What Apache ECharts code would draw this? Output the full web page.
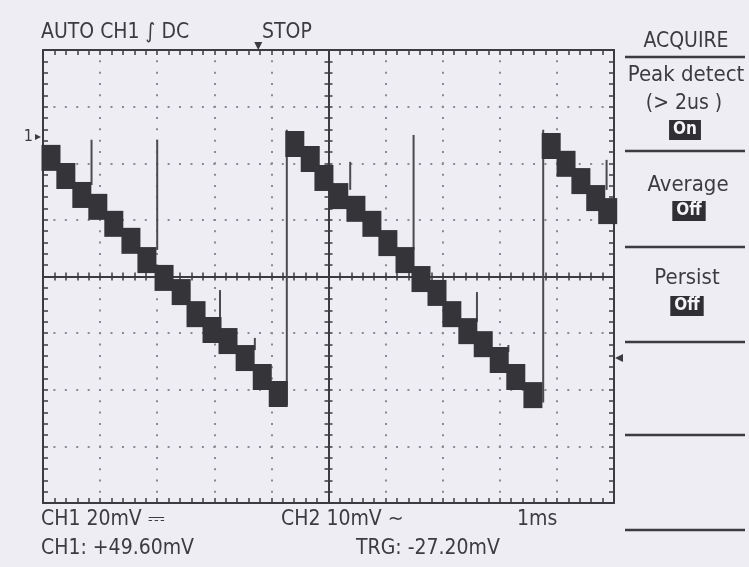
<!DOCTYPE html>
<html>
<head>
<meta charset="utf-8">
<script src="https://cdn.jsdelivr.net/npm/echarts@6/dist/echarts.min.js"></script>
<style>
  html, body { margin: 0; padding: 0; background: #ededf3; }
  #scope { width: 749px; height: 567px; }
</style>
</head>
<body>
<div id="scope"></div>
<script>
// staircase blocks of CH1 (time in ms from screen centre, level in mV)
var blockTime = [
  -4.86, -4.60, -4.32, -4.04, -3.76, -3.46, -3.18, -2.88, -2.58, -2.32, -2.04, -1.76, -1.46, -1.16, -0.88,
  -0.59, -0.32, -0.08, 0.18, 0.48, 0.76, 1.04, 1.34, 1.62, 1.90, 2.16, 2.44, 2.71, 2.99, 3.28, 3.58,
  3.90, 4.16, 4.42, 4.68, 4.89
];
var blockLevel = [
  41.9, 35.5, 28.8, 24.6, 18.6, 12.6, 5.8, -0.5, -5.5, -13.3, -18.9, -22.8, -28.8, -35.5, -41.5,
  46.8, 41.5, 34.8, 28.4, 23.9, 18.6, 11.8, 5.8, -0.9, -5.8, -13.3, -19.3, -23.9, -29.5, -35.5, -41.9,
  46.1, 39.8, 33.7, 27.7, 23.1
];
// vertical retrace edges
var retraceTime = [-0.73, 3.76];
var retraceLow = [-45.4, -44.5];
var retraceHigh = [51.8, 51.8];
// peak detect glitches
var spikeTime = [-4.15, -3.00, -1.90, -1.29, 0.38, 1.49, 2.60, 3.15, 4.87];
var spikeLow = [32.3, 9.4, -15.4, -26.0, 30.6, 9.4, -16.1, -26.7, 30.6];
var spikeHigh = [48.3, 48.3, -4.8, -21.7, 40.5, 50.0, -5.5, -24.2, 41.2];
// markers
var ch1Ref = 49.3;
var trigLevel = -28.8;
var trigTime = -1.23;

var ink = '#3b3b40';
var font = '"DejaVu Sans Condensed", "DejaVu Sans", sans-serif';

var blocks = blockTime.map(function (t, i) { return [t, blockLevel[i]]; });
var edges = [];
retraceTime.forEach(function (t, i) { edges.push([t, retraceLow[i], retraceHigh[i]]); });
spikeTime.forEach(function (t, i) { edges.push([t, spikeLow[i], spikeHigh[i]]); });

var tickLine = { color: ink, width: 1.5 };
function xAx(pos, onZero, split) {
  return {
    type: 'value', min: -5, max: 5, interval: 1, position: pos,
    axisLine: { show: true, onZero: onZero, onZeroAxisIndex: 0, lineStyle: { color: ink, width: 2 } },
    axisTick: { show: true, inside: true, length: onZero ? 4 : 5, lineStyle: tickLine },
    minorTick: { show: true, splitNumber: 5, length: onZero ? 4 : 5, lineStyle: tickLine },
    axisLabel: { show: false },
    splitLine: { show: split, lineStyle: { color: '#8a8a92', width: 2, type: [2, 9.33], dashOffset: 1 } }
  };
}
function yAx(pos, onZero, split) {
  return {
    type: 'value', min: -80, max: 80, interval: 20, position: pos,
    axisLine: { show: true, onZero: onZero, onZeroAxisIndex: 0, lineStyle: { color: ink, width: 2 } },
    axisTick: { show: true, inside: true, length: onZero ? 4 : 5, lineStyle: tickLine },
    minorTick: { show: true, splitNumber: 5, length: onZero ? 4 : 5, lineStyle: tickLine },
    axisLabel: { show: false },
    splitLine: { show: split, lineStyle: { color: '#8a8a92', width: 2, type: [2, 9.42], dashOffset: 1 } }
  };
}

function txt(x, y, s, size, align, extra) {
  var st = { text: s, font: size + 'px ' + font, fill: ink, align: align || 'left', verticalAlign: 'middle' };
  for (var k in extra) st[k] = extra[k];
  return { type: 'text', x: x, y: y, z: 10, style: st };
}
function rule(y) {
  return { type: 'line', z: 10, shape: { x1: 625, y1: y, x2: 745, y2: y }, style: { stroke: ink, lineWidth: 2.5 } };
}
var badge = { fill: '#f4f4f8', backgroundColor: '#2f2f34', padding: [2, 4, 1, 4], font: 'bold 17px ' + font };

var chart = echarts.init(document.getElementById('scope'));
chart.setOption({
  backgroundColor: '#ededf3',
  animation: false,
  grid: { left: 43, top: 50, width: 571, height: 453 },
  xAxis: [xAx('bottom', false, true), xAx('top', false, false), xAx('bottom', true, false), xAx('top', true, false)],
  yAxis: [yAx('left', false, true), yAx('right', false, false), yAx('left', true, false), yAx('right', true, false)],
  series: [
    {
      type: 'custom',
      name: 'edges',
      renderItem: function (params, api) {
        var a = api.coord([api.value(0), api.value(1)]);
        var b = api.coord([api.value(0), api.value(2)]);
        return { type: 'line', shape: { x1: a[0], y1: a[1], x2: b[0], y2: b[1] }, style: { stroke: '#4a4a50', lineWidth: 2 } };
      },
      data: edges,
      z: 3
    },
    {
      type: 'scatter',
      name: 'CH1',
      symbol: 'rect',
      symbolSize: [19, 26],
      itemStyle: { color: '#343439', opacity: 1 },
      data: blocks,
      z: 4,
      markPoint: {
        silent: true,
        data: [
          { coord: [-5, ch1Ref], symbol: 'triangle', symbolRotate: -90, symbolSize: 6, symbolOffset: [-5, 0],
            itemStyle: { color: ink }, label: { show: true, formatter: '1', position: 'left', distance: 2, color: ink, fontSize: 16, fontFamily: font } },
          { coord: [5, trigLevel], symbol: 'triangle', symbolRotate: 90, symbolSize: 8, symbolOffset: [5, 0],
            itemStyle: { color: ink }, label: { show: false } },
          { coord: [trigTime, 80], symbol: 'triangle', symbolRotate: 180, symbolSize: 8, symbolOffset: [0, -4],
            itemStyle: { color: ink }, label: { show: false } }
        ]
      }
    }
  ],
  graphic: [
    txt(41, 33, 'AUTO CH1 ∫ DC', 21),
    txt(262, 33, 'STOP', 21),
    txt(686, 42, 'ACQUIRE', 21, 'center'),
    rule(57),
    txt(686, 75, 'Peak detect', 22, 'center'),
    txt(684, 104, '(> 2us )', 21, 'center'),
    txt(685, 130, 'On', 15, 'center', badge),
    rule(151),
    txt(688, 185, 'Average', 22, 'center'),
    txt(689, 211, 'Off', 15, 'center', badge),
    rule(247),
    txt(687, 278, 'Persist', 22, 'center'),
    txt(687, 306, 'Off', 15, 'center', badge),
    rule(342),
    rule(435),
    rule(530),
    txt(41, 520, 'CH1 20mV ⎓', 21),
    txt(281, 520, 'CH2 10mV ∼', 21),
    txt(517, 520, '1ms', 21),
    txt(41, 549, 'CH1: +49.60mV', 21),
    txt(356, 549, 'TRG: -27.20mV', 21)
  ]
});
</script>
</body>
</html>
